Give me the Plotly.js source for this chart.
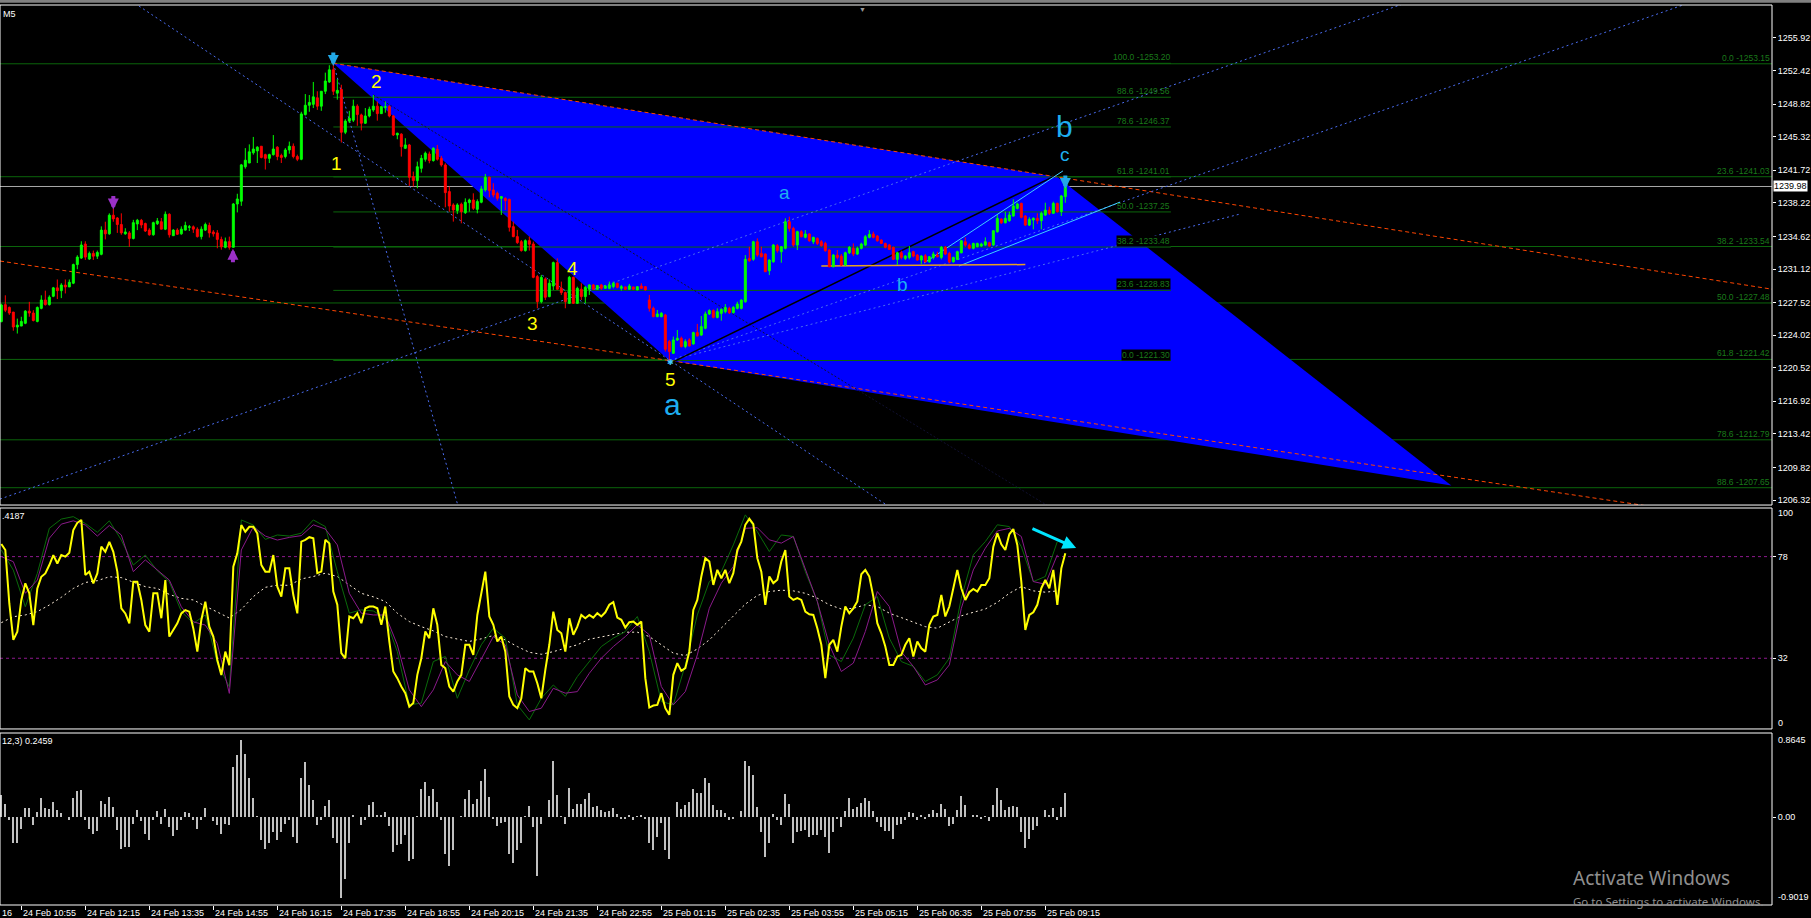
<!DOCTYPE html>
<html><head><meta charset="utf-8">
<script src="https://cdn.plot.ly/plotly-3.0.1.min.js"></script>
<style>html,body{margin:0;padding:0;background:#000;}#chart{width:1811px;height:918px;}</style>
</head><body><div id="chart"></div>
<script>
// ---------- price bars (M5) ----------
const openP = [
1225.48,1227.3,1227.0,1226.5,1224.9,1225.0,1225.3,1226.6,1226.4,1225.5,
1226.9,1227.8,1227.3,1228.2,1229.1,1228.8,1229.4,1229.2,1229.6,1231.6,
1232.3,1233.8,1232.2,1232.8,1232.5,1232.7,1235.3,1234.9,1236.9,1236.6,
1235.9,1234.9,1235.0,1234.4,1235.96,1236.35,1236.0,1235.3,1234.8,1235.99,
1236.2,1235.4,1237.0,1234.7,1235.3,1234.9,1235.3,1235.6,1235.65,1235.4,
1234.6,1235.3,1235.8,1235.1,1235.0,1234.3,1233.45,1234.06,1233.45,1238.1,
1238.4,1242.1,1242.5,1243.6,1243.8,1244.3,1243.4,1243.0,1243.4,1244.2,
1243.3,1243.2,1243.9,1244.3,1243.2,1242.9,1247.7,1248.7,1248.8,1249.5,
1248.6,1250.2,1251.2,1252.5,1250.0,1250.4,1245.8,1247.0,1247.1,1248.6,
1247.66,1246.77,1247.55,1248.2,1248.6,1247.8,1248.45,1248.55,1247.55,1245.51,
1245.6,1244.08,1244.44,1241.04,1240.61,1241.93,1242.9,1243.47,1242.76,1243.97,
1243.0,1242.29,1239.43,1238.0,1237.39,1238.07,1237.17,1238.25,1238.53,1237.53,
1238.29,1239.61,1240.97,1239.61,1239.25,1238.71,1238.71,1238.6,1235.67,1234.6,
1234.06,1233.1,1234.17,1233.81,1230.31,1227.62,1230.05,1228.16,1229.3,1231.81,
1229.06,1228.59,1227.44,1230.23,1227.44,1228.95,1228.16,1228.95,1229.41,1228.95,
1229.41,1229.05,1229.05,1229.23,1229.59,1229.05,1229.2,1228.95,1229.2,1228.88,
1229.3,1229.23,1227.8,1226.91,1226.01,1226.01,1226.19,1223.33,1222.08,1223.51,
1223.69,1222.8,1223.51,1223.08,1224.3,1224.04,1224.76,1226.3,1226.66,1225.93,
1226.36,1226.54,1226.9,1226.43,1226.9,1226.9,1227.61,1232.26,1232.16,1234.05,
1232.8,1232.73,1230.94,1231.9,1233.63,1232.98,1233.34,1236.2,1235.48,1233.7,
1235.13,1234.52,1234.88,1234.05,1234.41,1234.05,1233.87,1233.16,1231.37,1232.62,
1232.51,1231.55,1232.87,1233.34,1232.73,1233.34,1233.7,1234.52,1234.88,1234.66,
1234.23,1233.87,1233.7,1233.45,1232.16,1232.87,1232.26,1232.37,1232.98,1232.62,
1232.08,1232.55,1231.9,1232.37,1232.62,1232.37,1233.45,1232.8,1231.9,1232.16,
1232.87,1234.05,1233.7,1233.34,1233.52,1233.59,1233.7,1233.95,1233.7,1235.13,
1236.49,1236.09,1236.31,1236.81,1237.63,1238.17,1236.81,1235.84,1236.38,1236.56,
1236.31,1236.92,1237.45,1237.1,1238.17,1237.28,1238.89];
const highP = [
1227.4,1228.3,1227.1,1226.5,1225.8,1226.0,1226.7,1227.6,1226.7,1227.1,
1228.3,1228.8,1228.3,1229.2,1230.0,1229.6,1230.0,1230.0,1231.7,1232.6,
1234.1,1234.1,1233.0,1233.1,1233.1,1235.7,1236.2,1237.1,1237.6,1236.7,
1237.1,1235.5,1235.2,1236.4,1236.5,1236.5,1236.1,1235.5,1236.2,1236.6,
1236.6,1237.3,1237.1,1235.4,1235.5,1235.7,1236.2,1235.85,1235.8,1235.6,
1235.7,1236.1,1236.1,1235.3,1235.3,1234.6,1234.5,1234.6,1238.2,1239.2,
1242.4,1244.1,1244.5,1245.3,1244.3,1244.3,1243.5,1243.5,1245.5,1244.3,
1243.5,1244.1,1244.8,1244.6,1243.4,1248.0,1249.9,1249.8,1251.2,1250.2,
1250.2,1252.2,1253.0,1253.2,1251.5,1250.9,1247.2,1248.1,1249.3,1248.8,
1247.8,1248.4,1248.55,1249.8,1249.1,1248.6,1249.1,1248.7,1247.66,1245.76,
1245.69,1245.16,1244.55,1241.58,1242.65,1243.37,1243.73,1243.73,1244.19,1244.44,
1243.26,1242.47,1239.97,1238.18,1238.18,1238.25,1238.71,1238.68,1239.25,1238.6,
1240.04,1241.33,1241.04,1240.33,1239.43,1238.96,1238.82,1238.67,1236.21,1235.32,
1234.24,1234.31,1234.6,1234.06,1230.49,1230.49,1230.23,1230.02,1231.92,1232.27,
1229.77,1228.7,1230.38,1230.31,1229.23,1229.59,1229.3,1229.48,1229.52,1229.41,
1229.52,1229.41,1229.77,1229.77,1229.66,1229.41,1229.23,1229.52,1229.23,1229.25,
1229.59,1229.3,1228.34,1227.09,1226.73,1226.5,1226.3,1223.51,1223.87,1224.58,
1223.87,1223.58,1223.69,1224.4,1225.23,1226.08,1226.55,1226.8,1226.8,1226.9,
1226.9,1227.36,1227.08,1227.15,1227.61,1227.86,1232.62,1233.52,1234.16,1234.41,
1233.52,1232.8,1232.16,1233.8,1233.8,1233.59,1236.56,1236.74,1235.66,1235.23,
1235.3,1235.3,1234.95,1234.59,1234.52,1234.23,1234.05,1233.23,1232.73,1233.16,
1232.73,1232.98,1233.59,1233.87,1233.52,1233.95,1234.77,1235.3,1235.13,1234.77,
1234.3,1233.95,1233.8,1233.52,1232.98,1233.09,1232.62,1233.59,1233.09,1232.73,
1232.62,1232.73,1232.51,1232.98,1232.98,1233.59,1233.59,1232.98,1232.44,1233.09,
1234.23,1234.52,1233.87,1233.95,1233.95,1233.95,1234.52,1234.05,1235.3,1236.92,
1236.56,1237.28,1237.28,1238.6,1238.24,1238.24,1236.92,1236.67,1236.67,1237.1,
1237.28,1238.24,1237.81,1238.35,1238.24,1239.07,1240.04];
const lowP = [
1225.4,1226.5,1226.2,1224.5,1224.2,1225.0,1225.2,1226.0,1225.5,1225.4,
1226.8,1227.2,1227.2,1228.1,1227.9,1228.0,1228.5,1229.2,1229.5,1231.1,
1232.2,1232.1,1232.1,1232.1,1232.2,1232.6,1234.3,1234.8,1236.2,1235.0,
1234.8,1234.8,1233.5,1234.3,1235.3,1235.5,1235.1,1234.7,1234.7,1235.85,
1235.4,1235.3,1234.5,1234.7,1234.8,1234.8,1235.25,1235.2,1235.0,1234.5,
1234.3,1235.2,1234.5,1234.6,1233.35,1233.2,1233.35,1233.2,1233.45,1237.2,
1237.9,1241.9,1242.5,1243.4,1242.5,1243.0,1241.8,1242.5,1243.3,1242.8,
1242.5,1243.0,1243.5,1243.0,1242.7,1242.8,1247.6,1248.0,1248.4,1248.2,
1248.1,1249.9,1251.1,1249.8,1249.3,1244.7,1245.6,1246.8,1246.9,1246.5,
1246.0,1246.7,1247.4,1248.0,1247.05,1247.8,1247.9,1247.4,1245.4,1245.05,
1243.19,1244.0,1240.04,1239.97,1239.79,1241.47,1242.65,1242.47,1242.65,1242.76,
1242.11,1237.75,1237.28,1236.21,1237.03,1236.03,1237.03,1237.28,1237.46,1237.1,
1238.18,1239.43,1238.82,1238.82,1238.46,1236.93,1237.46,1235.14,1234.53,1233.82,
1232.99,1232.99,1233.1,1230.13,1226.91,1227.44,1227.8,1228.09,1228.88,1228.88,
1228.34,1226.91,1227.37,1227.37,1227.37,1227.8,1227.44,1228.34,1228.88,1228.88,
1228.88,1229.0,1228.95,1229.05,1229.05,1228.81,1228.88,1228.88,1228.88,1228.85,
1229.0,1228.81,1226.55,1225.94,1225.94,1225.94,1222.26,1221.3,1222.0,1223.4,
1222.7,1222.62,1222.8,1223.0,1223.87,1223.94,1224.65,1226.19,1225.83,1225.83,
1225.58,1226.36,1226.29,1226.36,1226.79,1226.79,1227.5,1231.9,1232.01,1232.44,
1232.37,1230.83,1230.47,1231.8,1232.87,1231.8,1233.23,1235.13,1233.52,1233.16,
1234.52,1234.41,1234.05,1233.8,1233.7,1233.52,1232.98,1231.3,1231.3,1232.16,
1231.44,1231.44,1232.73,1232.51,1232.62,1233.23,1233.59,1234.41,1234.41,1234.05,
1233.8,1233.34,1233.16,1232.08,1231.55,1232.16,1232.08,1232.16,1232.37,1232.01,
1231.66,1231.8,1231.8,1232.16,1232.37,1232.16,1232.62,1231.73,1231.8,1232.08,
1232.8,1233.52,1233.23,1233.23,1233.45,1233.5,1233.59,1233.52,1233.59,1235.02,
1235.95,1236.02,1236.2,1236.74,1237.52,1236.56,1235.74,1235.74,1235.38,1235.95,
1235.38,1236.81,1236.92,1237.03,1237.17,1236.81,1238.24];
const closeP = [
1227.27,1226.7,1226.4,1224.9,1225.1,1225.5,1226.6,1226.4,1225.6,1227.0,
1227.8,1227.3,1228.1,1229.1,1228.8,1229.4,1229.2,1229.7,1231.6,1232.4,
1233.7,1232.4,1232.8,1232.5,1232.9,1235.3,1234.9,1236.9,1236.5,1235.9,
1235.0,1235.1,1234.4,1236.1,1236.35,1235.85,1235.2,1234.8,1236.1,1236.28,
1235.4,1237.0,1234.8,1235.3,1234.85,1235.4,1235.8,1235.65,1235.4,1234.6,
1235.4,1235.9,1235.0,1234.9,1234.3,1233.5,1234.06,1233.45,1238.1,1238.64,
1242.3,1242.8,1243.7,1244.0,1244.2,1243.1,1243.0,1243.4,1244.0,1243.2,
1243.1,1243.9,1244.3,1243.2,1242.9,1247.77,1248.7,1249.0,1249.6,1248.6,
1250.2,1251.3,1252.5,1250.2,1250.3,1245.8,1247.0,1247.3,1248.6,1247.7,
1246.77,1247.55,1248.27,1248.6,1247.8,1248.55,1248.55,1247.55,1245.51,1245.69,
1244.26,1244.44,1240.97,1240.61,1242.1,1243.0,1243.55,1242.76,1244.08,1242.9,
1242.29,1239.32,1237.89,1237.46,1238.0,1237.28,1238.29,1238.53,1237.64,1238.36,
1239.72,1240.97,1239.54,1239.07,1238.71,1238.89,1238.46,1235.6,1234.6,1233.96,
1233.1,1234.17,1233.78,1230.23,1227.62,1230.23,1228.09,1229.59,1231.81,1228.95,
1228.59,1227.62,1230.23,1227.44,1229.05,1228.16,1229.16,1229.41,1228.95,1229.34,
1229.05,1229.3,1229.41,1229.59,1229.16,1229.23,1228.95,1229.3,1228.95,1229.23,
1229.05,1228.88,1226.91,1226.01,1226.3,1226.37,1222.51,1222.26,1223.51,1223.69,
1222.8,1223.33,1222.87,1224.3,1223.94,1224.94,1226.3,1226.66,1225.94,1226.54,
1226.79,1227.0,1226.43,1227.0,1227.36,1227.79,1232.16,1232.01,1234.05,1232.62,
1232.44,1230.83,1232.08,1233.7,1233.09,1233.52,1236.2,1235.48,1233.7,1235.13,
1234.59,1234.88,1234.16,1234.52,1233.87,1233.63,1233.09,1231.37,1232.62,1232.37,
1231.55,1232.87,1233.45,1232.73,1233.34,1233.8,1234.59,1234.84,1234.52,1234.16,
1233.87,1233.45,1233.23,1232.16,1232.87,1232.37,1232.51,1232.87,1232.51,1232.08,
1232.51,1231.9,1232.44,1232.73,1232.44,1233.45,1232.73,1231.9,1232.37,1232.98,
1234.16,1233.7,1233.34,1233.87,1233.87,1233.8,1234.05,1233.59,1235.23,1236.56,
1236.09,1236.56,1236.92,1237.88,1238.1,1236.67,1235.84,1236.45,1236.56,1236.31,
1237.1,1237.45,1237.1,1238.17,1237.28,1238.96,1239.98];
const lastPrice = 1239.98;

// ---------- stochastic window ----------
const stochMain = [
83.7,81.0,56.8,40.3,44.0,58.4,65.9,61.4,47.0,63.6,
68.9,70.4,74.2,78.7,74.9,78.7,78.0,79.8,90.0,93.3,
94.6,69.7,71.2,65.9,70.4,82.5,80.2,84.7,80.2,71.2,
54.6,52.3,47.8,66.6,66.6,58.4,47.0,44.0,61.4,61.4,
50.1,67.4,41.8,44.8,47.8,52.3,53.8,53.1,45.5,35.0,
49.3,57.6,46.3,41.8,31.2,24.4,35.0,28.9,73.4,79.5,
92.3,89.3,91.5,91.5,88.5,74.2,71.2,71.2,78.7,64.4,
59.9,72.7,72.7,60.6,52.3,84.8,85.6,86.8,86.3,70.5,
71.2,85.6,84.0,62.2,56.2,34.3,32.0,50.9,50.1,52.4,
47.9,54.6,55.4,55.4,54.6,47.1,55.4,39.6,26.0,23.0,
19.2,16.2,10.1,11.7,24.5,32.0,44.1,41.1,54.6,47.1,
29.0,27.5,19.2,16.9,21.5,24.5,38.1,38.1,33.5,51.6,
62.2,71.2,50.9,47.1,39.6,41.8,35.0,14.7,10.9,9.4,
13.9,27.5,26.0,26.0,20.7,13.9,26.7,38.1,53.1,44.8,
43.3,35.0,50.1,42.6,46.3,51.6,50.1,51.6,50.4,52.4,
50.9,52.8,56.2,57.4,50.4,49.4,45.9,48.3,48.6,47.1,
48.6,23.0,9.7,10.6,10.9,16.2,9.4,6.4,24.5,29.8,
26.3,27.5,35.0,53.9,58.4,69.0,77.3,75.8,65.2,72.0,
68.2,72.0,66.0,70.5,81.0,84.8,92.4,95.1,92.7,77.3,
71.2,56.2,69.0,66.0,67.5,75.8,81.0,59.9,58.4,59.2,
58.4,53.1,51.9,51.6,45.6,38.1,23.0,38.1,40.3,35.0,
46.3,55.4,52.4,54.6,57.7,70.0,72.0,69.0,59.9,47.9,
43.3,37.3,29.0,29.0,32.8,33.5,38.1,41.1,32.8,39.6,
36.5,35.0,47.1,50.9,51.6,60.7,50.9,55.4,63.7,72.0,
63.7,58.4,61.9,63.4,62.2,65.2,65.2,68.2,82.5,88.6,
83.6,81.0,88.1,90.5,83.3,66.7,44.8,51.6,52.8,56.2,
63.7,67.5,63.7,72.0,56.2,72.7,79.5];
// signal lines, read every 3rd bar
const SAMPLE_STEP = 3;
const stochSignalGreen = [
81.0,71.9,55.3,70.4,90.8,95.0,96.1,93.0,89.0,94.2,
85.5,74.2,78.7,71.6,66.6,53.1,47.8,51.6,29.7,19.1,
94.6,92.3,85.8,87.8,87.3,88.6,94.6,91.6,71.2,52.4,
53.9,53.4,50.1,35.0,10.9,11.7,30.5,32.8,13.9,26.7,
38.1,45.6,41.1,10.9,4.1,13.9,19.9,14.7,23.7,30.5,
37.3,41.1,44.1,50.9,35.0,12.4,10.9,29.0,51.6,66.7,
71.2,83.3,96.9,89.3,80.3,87.8,87.1,71.2,57.7,33.5,
30.5,41.1,56.2,59.9,41.1,30.5,28.3,21.5,24.5,32.0,
59.2,78.8,84.8,92.4,91.6,82.5,66.7,69.0,84.8];
const stochSignalPurple = [
78.0,75.7,61.4,67.4,86.3,92.7,94.2,92.3,87.3,92.1,
87.8,71.2,76.5,71.9,67.4,55.3,48.5,47.0,38.7,16.1,
81.0,91.5,87.3,85.5,86.7,87.5,92.4,90.5,83.3,61.4,
52.4,51.6,51.6,38.1,17.7,10.1,17.7,30.5,24.5,21.5,
31.3,41.8,38.1,15.4,7.9,9.4,18.4,16.2,16.9,25.2,
32.0,37.3,41.8,47.1,42.6,19.2,10.9,16.9,33.5,54.6,
66.0,73.5,90.8,91.1,85.6,84.1,87.1,72.7,57.7,38.1,
26.0,29.8,44.1,62.2,55.4,35.0,28.3,19.9,22.2,29.0,
54.6,72.0,81.8,89.6,90.8,87.1,66.7,65.5,78.8];
const stochSlow = [
48.1,50.8,51.6,53.1,56.1,59.6,63.6,66.3,67.1,68.9,
68.5,66.6,64.4,63.6,60.9,59.1,58.4,55.6,52.9,50.2,
54.1,59.9,64.1,65.1,65.0,67.9,69.0,70.5,69.0,65.2,
61.4,59.8,57.7,52.4,48.6,46.3,44.4,41.8,40.8,39.6,
40.8,42.3,40.3,37.3,34.7,33.8,35.0,36.5,38.1,40.6,
41.7,42.9,43.8,43.8,41.8,38.1,34.3,33.2,36.2,40.3,
45.6,50.9,56.5,60.4,62.2,62.8,62.5,61.4,59.2,56.2,
54.3,54.6,56.2,55.4,52.4,50.4,48.3,46.3,45.6,48.3,
51.2,52.8,54.3,57.3,61.4,64.4,62.5,61.9,62.5];
const stochLevels = [78, 32];

// ---------- histogram window ----------
const histValues = [
0.23,0.14,-0.03,-0.27,-0.26,-0.125,0.09,0.09,-0.08,0.055,
0.195,0.09,0.083,0.16,0.073,0.045,0,-0.024,0.195,0.27,
0.28,-0.024,-0.125,-0.177,-0.14,0.167,0.135,0.21,0.10,-0.135,
-0.33,-0.31,-0.31,-0.066,0.073,-0.038,-0.177,-0.23,-0.024,0.063,
-0.066,0.08,-0.10,-0.19,-0.135,-0.03,0.049,0.038,-0.024,-0.12,
-0.024,0.09,0,-0.038,-0.076,-0.177,-0.066,-0.076,0.52,0.64,
0.79,0.65,0.40,0.195,0.01,-0.23,-0.33,-0.27,-0.15,-0.23,
-0.15,-0.066,-0.03,-0.20,-0.26,0.40,0.57,0.33,0.177,-0.076,
-0.024,0.115,0.177,-0.215,-0.27,-0.83,-0.63,-0.27,0.02,0,
-0.08,-0.024,0.125,0.16,0.02,0.02,0.055,-0.09,-0.36,-0.29,
-0.28,-0.18,-0.45,-0.43,0.01,0.29,0.36,0.22,0.29,0.16,
-0.024,-0.38,-0.50,-0.34,0,0.01,0.19,0.28,0.135,0.19,
0.37,0.49,0.21,-0.02,-0.09,-0.055,-0.05,-0.38,-0.47,-0.34,
-0.27,0.01,0.115,-0.10,-0.60,-0.073,0,0.177,0.58,0.23,
0.01,-0.066,0.30,0.083,0.135,0.135,0.19,0.25,0.10,0.12,
0.073,0.055,0.063,0.09,0.03,-0.014,-0.014,0.02,-0.024,0.01,
0.02,-0.014,-0.27,-0.34,-0.20,-0.055,-0.34,-0.43,0,0.16,
0.083,0.125,0.16,0.29,0.25,0.25,0.40,0.35,0.125,0.073,
0.073,0.038,-0.024,-0.014,0,0.063,0.58,0.53,0.43,0.10,
-0.15,-0.41,-0.27,0.03,-0.024,-0.076,0.24,0.135,-0.27,-0.15,
-0.146,-0.135,-0.20,-0.18,-0.18,-0.135,-0.20,-0.37,-0.15,-0.014,
-0.10,0.063,0.195,0.083,0.10,0.15,0.195,0.167,0.063,-0.05,
-0.10,-0.14,-0.14,-0.22,-0.08,-0.066,-0.03,0.049,0.038,-0.024,
0.02,-0.014,0.03,0.073,0.038,0.135,0.08,-0.09,-0.066,0.073,
0.22,0.125,0,0.02,0.02,-0.014,0.01,-0.038,0.125,0.30,
0.177,0.073,0.108,0.115,0.10,-0.15,-0.32,-0.22,-0.135,-0.094,
0,0.073,0.02,0.09,-0.024,0.10,0.25];
const histMax = 0.8645, histMin = -0.9019;

// ---------- axes ----------
const timeTickBars = [5,21,37,53,69,85,101,117,133,149,165,181,197,213,229,245,261];
const timeTickLabels = ['24 Feb 10:55','24 Feb 12:15','24 Feb 13:35','24 Feb 14:55','24 Feb 16:15',
 '24 Feb 17:35','24 Feb 18:55','24 Feb 20:15','24 Feb 21:35','24 Feb 22:55','25 Feb 01:15',
 '25 Feb 02:35','25 Feb 03:55','25 Feb 05:15','25 Feb 06:35','25 Feb 07:55','25 Feb 09:15'];
const priceTicks = [1255.92,1252.42,1248.82,1245.32,1241.72,1238.22,1234.62,1231.12,1227.52,1224.02,1220.52,1216.92,1213.42,1209.82,1206.32];
const priceRange = [1205.79, 1259.46];
const barRange = [-0.33, 442.67];

// ---------- Fibonacci objects ----------
const fibALevels = ['100.0','88.6','78.6','61.8','50.0','38.2','23.6','0.0'];
const fibAPrices = [1253.20,1249.56,1246.37,1241.01,1237.25,1233.48,1228.83,1221.30];
const fibAStartBar = 83, fibAEndBar = 292.4;
const fibBLevels = ['0.0','23.6','38.2','50.0','61.8','78.6','88.6'];
const fibBPrices = [1253.15,1241.03,1233.54,1227.48,1221.42,1212.79,1207.65];

// ---------- drawn objects (bar index, price) ----------
const zonePolygon = [[83,1253.2],[264,1241.0],[362.5,1207.9],[167,1221.3]];
const orangeUpper = [83,1253.2,264,1241.0];
const orangeLower = [-0.33,1231.98,167,1221.3];
const dotDesc1 = [34.4,1259.35,167.2,1221.3];
const dotSteep = [83,1253.2,103.9,1221.35];
const dotDescBlack = [93,1249.8,178.4,1227.47];
const dotRise1 = [-0.33,1206.43,348.9,1259.35];
const dotRise2 = [167.2,1221.3,419.7,1259.35];
const dotRise3 = [167.2,1221.3,310,1237.06];
const blackSolid = [167.2,1221.0,265.2,1241.5];
const cyanUpper = [230.7,1231.77,265.4,1241.65];
const cyanLower = [239.4,1231.44,279.7,1238.31];
const orangeFlat = [205,1231.45,256,1231.6];

const waveDigits = [['1',83.9,1242.4],['2',93.9,1251.3],['3',132.9,1225.3],['4',142.9,1231.2],['5',167.4,1219.3]];
const waveBig = [['a',167.7,1216.6],['b',265.9,1246.4]];
const waveSmall = [['a',195.9,1239.3],['b',225.2,1229.5],['c',265.9,1243.4]];
const arrowsDown = [[28,1237.5,'#9b30c8'],[83,1252.9,'#22a8e6'],[266,1239.7,'#22a8e6']];
const arrowsUp = [[57.9,1233.3,'#9b30c8']];
const stochArrow = [257.4,91.0,268.7,81.9];

// ---------- build ----------
const FONT = 'Liberation Sans, Arial, sans-serif';
const bars = openP.map((_, i) => i);
const sampleBars = stochSignalGreen.map((_, k) => k * SAMPLE_STEP);

function seg(s, style, ray){
  let x1 = s[2], y1 = s[3];
  if (ray) { const k = (s[3]-s[1])/(s[2]-s[0]); x1 = barRange[1]; y1 = s[1] + k*(x1 - s[0]); }
  return Object.assign({type:'line', xref:'x', yref:'y', x0:s[0], y0:s[1], x1:x1, y1:y1, layer:'below'}, style);
}
const DOT = {line:{color:'#4a6cf0', width:1, dash:'2px,3px'}};
const shapes = [];
shapes.push({type:'path', xref:'x', yref:'y', layer:'below', fillcolor:'#0000ff', line:{width:0},
  path: 'M' + zonePolygon.map(p => p[0] + ',' + p[1]).join(' L') + ' Z'});
fibAPrices.forEach(p => shapes.push({type:'line', xref:'x', yref:'y', x0:fibAStartBar, x1:fibAEndBar, y0:p, y1:p, layer:'below', line:{color:'#0b650b', width:1}}));
fibBPrices.forEach(p => shapes.push({type:'line', xref:'paper', yref:'y', x0:0, x1:1, y0:p, y1:p, layer:'below', line:{color:'#0b650b', width:1}}));
shapes.push({type:'line', xref:'paper', yref:'y', x0:0, x1:1, y0:lastPrice, y1:lastPrice, layer:'below', line:{color:'#a8a8a8', width:1}});
shapes.push(seg(orangeUpper, {line:{color:'#ff4500', width:1, dash:'4px,3px'}}, true));
shapes.push(seg(orangeLower, {line:{color:'#ff4500', width:1, dash:'4px,3px'}}, true));
shapes.push(seg(dotDesc1, DOT, true));
shapes.push(seg(dotSteep, DOT, true));
shapes.push(seg(dotDescBlack, {line:{color:'#101030', width:1, dash:'2px,2px'}}, true));
shapes.push(seg(dotRise1, DOT, true));
shapes.push(seg(dotRise2, DOT, true));
shapes.push(seg(dotRise3, DOT, false));
shapes.push(seg(blackSolid, {line:{color:'#000000', width:1.5}}, false));
shapes.push(seg(cyanUpper, {line:{color:'#3fd0ff', width:1}}, false));
shapes.push(seg(cyanLower, {line:{color:'#3fd0ff', width:1}}, false));
shapes.push(seg(orangeFlat, {line:{color:'#e8a020', width:1.5}}, false));
stochLevels.forEach(v => shapes.push({type:'line', xref:'paper', yref:'y2', x0:0, x1:1, y0:v, y1:v, layer:'below', line:{color:'#8e1a8e', width:1, dash:'3px,3px'}}));
['y','y2','y3'].forEach(a => shapes.push({type:'rect', xref:'paper', yref:a+' domain', x0:0, x1:1, y0:0, y1:1, layer:'above', line:{color:'#ffffff', width:1}}));
shapes.push({type:'rect', xref:'paper', yref:'paper', x0:0, x1:1.03, y0:1.0025, y1:1.006, fillcolor:'#808080', line:{width:0}, layer:'above'});

const ann = [];
fibAPrices.forEach((p, k) => {
  const bg = (k >= 5) ? '#000' : 'rgba(0,0,0,0)';
  ann.push({xref:'x', yref:'y', x:fibAEndBar, y:p, xanchor:'right', yanchor:'bottom', showarrow:false, borderpad:0,
    text: fibALevels[k] + ' -' + p.toFixed(2), bgcolor:bg, font:{family:FONT, size:8.5, color:'#1a7a1a'}});
});
fibBPrices.forEach((p, k) => {
  ann.push({xref:'paper', yref:'y', x:1, xshift:-1, y:p, xanchor:'right', yanchor:'bottom', showarrow:false, borderpad:0,
    text: fibBLevels[k] + ' -' + p.toFixed(2), font:{family:FONT, size:8.5, color:'#1a7a1a'}});
});
ann.push({xref:'paper', yref:'y', x:1, xshift:1, y:lastPrice, xanchor:'left', yanchor:'middle', showarrow:false,
  text:lastPrice.toFixed(2), bgcolor:'#ffffff', borderpad:0, font:{family:FONT, size:9, color:'#000'}});
waveDigits.forEach(w => ann.push({xref:'x', yref:'y', x:w[1], y:w[2], text:w[0], showarrow:false, font:{family:FONT, size:19, color:'#ffff00'}}));
waveBig.forEach(w => ann.push({xref:'x', yref:'y', x:w[1], y:w[2], text:w[0], showarrow:false, font:{family:FONT, size:30, color:'#1eaef0'}}));
waveSmall.forEach(w => ann.push({xref:'x', yref:'y', x:w[1], y:w[2], text:w[0], showarrow:false, font:{family:FONT, size:19, color:'#1eaef0'}}));
arrowsDown.forEach(a => ann.push({xref:'x', yref:'y', x:a[0], y:a[1], ax:0, ay:-15, showarrow:true, arrowhead:2, arrowsize:0.55, arrowwidth:4, arrowcolor:a[2], text:''}));
arrowsUp.forEach(a => ann.push({xref:'x', yref:'y', x:a[0], y:a[1], ax:0, ay:15, showarrow:true, arrowhead:2, arrowsize:0.55, arrowwidth:4, arrowcolor:a[2], text:''}));
ann.push({xref:'x', yref:'y', x:167.2, y:1221.2, text:'✱', showarrow:false, font:{size:8, color:'#3fc8ff'}});
ann.push({xref:'x', yref:'y2', x:stochArrow[2], y:stochArrow[3], axref:'x', ayref:'y2', ax:stochArrow[0], ay:stochArrow[1],
  showarrow:true, arrowhead:2, arrowsize:0.9, arrowwidth:3, arrowcolor:'#00e5ff', text:''});
timeTickBars.forEach((b, k) => ann.push({xref:'x', yref:'paper', x:b, y:0, xanchor:'left', yanchor:'top', xshift:0, yshift:-1, showarrow:false,
  text:timeTickLabels[k], font:{family:FONT, size:9, color:'#fff'}}));
ann.push({xref:'paper', yref:'paper', x:0, y:0, xanchor:'left', yanchor:'top', yshift:-1, showarrow:false, text:'16', font:{family:FONT, size:9, color:'#fff'}});
ann.push({xref:'paper', yref:'paper', x:0, y:1, xanchor:'left', yanchor:'top', xshift:1, yshift:-2, showarrow:false, text:'M5', font:{family:FONT, size:9, color:'#fff'}});
ann.push({xref:'paper', yref:'y2 domain', x:0, y:1, xanchor:'left', yanchor:'top', xshift:0, yshift:-1, showarrow:false, text:'.4187', font:{family:FONT, size:9, color:'#fff'}});
ann.push({xref:'paper', yref:'y3 domain', x:0, y:1, xanchor:'left', yanchor:'top', xshift:0, yshift:-1, showarrow:false, text:'12,3) 0.2459', font:{family:FONT, size:9, color:'#fff'}});
ann.push({xref:'paper', yref:'y2', x:1, xshift:4, y:100, yshift:-5, xanchor:'left', showarrow:false, text:'100', font:{family:FONT, size:9, color:'#fff'}});
ann.push({xref:'paper', yref:'y2', x:1, xshift:4, y:0, yshift:6, xanchor:'left', showarrow:false, text:'0', font:{family:FONT, size:9, color:'#fff'}});
ann.push({xref:'paper', yref:'y3', x:1, xshift:4, y:histMax, yshift:-7, xanchor:'left', showarrow:false, text:histMax.toFixed(4), font:{family:FONT, size:9, color:'#fff'}});
ann.push({xref:'paper', yref:'y3', x:1, xshift:4, y:histMin, yshift:8, xanchor:'left', showarrow:false, text:histMin.toFixed(4), font:{family:FONT, size:9, color:'#fff'}});
ann.push({xref:'paper', yref:'paper', x:0.4865, y:1, yshift:2, showarrow:false, text:'▼', font:{size:7, color:'#9a9a9a'}});
ann.push({xref:'paper', yref:'paper', x:0.8866, y:0.03, xanchor:'left', yanchor:'middle', showarrow:false, text:'Activate Windows', font:{family:'Noto Sans, sans-serif', size:19, color:'#8f8f8f'}});
ann.push({xref:'paper', yref:'paper', x:0.8866, y:0.004, xanchor:'left', yanchor:'middle', showarrow:false, text:'Go to Settings to activate Windows.', font:{family:'Noto Sans, sans-serif', size:11.5, color:'#8f8f8f'}});

const data = [
  {type:'candlestick', x:bars, open:openP, high:highP, low:lowP, close:closeP, xaxis:'x', yaxis:'y', whiskerwidth:0,
   increasing:{line:{color:'#00ff00', width:1}, fillcolor:'#00ff00'},
   decreasing:{line:{color:'#ff0000', width:1}, fillcolor:'#ff0000'}, hoverinfo:'skip'},
  {type:'scatter', mode:'lines', x:sampleBars, y:stochSlow, xaxis:'x', yaxis:'y2', line:{color:'#fff0dc', width:1, dash:'2px,3px'}, hoverinfo:'skip'},
  {type:'scatter', mode:'lines', x:sampleBars, y:stochSignalGreen, xaxis:'x', yaxis:'y2', line:{color:'#0a6a0a', width:1}, hoverinfo:'skip'},
  {type:'scatter', mode:'lines', x:sampleBars, y:stochSignalPurple, xaxis:'x', yaxis:'y2', line:{color:'#8a1a8a', width:1}, hoverinfo:'skip'},
  {type:'scatter', mode:'lines', x:bars, y:stochMain, xaxis:'x', yaxis:'y2', line:{color:'#ffff00', width:2}, hoverinfo:'skip'},
  {type:'bar', x:bars, y:histValues, xaxis:'x', yaxis:'y3', width:0.5, marker:{color:'#c0c0c0', line:{width:0}}, hoverinfo:'skip'}
];

const axisFont = {family:FONT, size:9, color:'#ffffff'};
const layout = {
  width:1811, height:918, paper_bgcolor:'#000', plot_bgcolor:'#000',
  margin:{l:0, r:39, t:5, b:13}, showlegend:false, bargap:0,
  xaxis:{range:barRange, anchor:'y3', showgrid:false, zeroline:false, showline:false, tickmode:'array', tickvals:timeTickBars,
    ticks:'outside', ticklen:4, tickcolor:'#fff', showticklabels:false, rangeslider:{visible:false}, fixedrange:true},
  yaxis:{domain:[0.4444,1], range:priceRange, side:'right', anchor:'x', showgrid:false, zeroline:false, showline:false,
    tickmode:'array', tickvals:priceTicks, ticktext:priceTicks.map(v => v.toFixed(2)), ticks:'outside', ticklen:3, tickcolor:'#fff', tickfont:axisFont},
  yaxis2:{domain:[0.1956,0.4411], range:[0,100], side:'right', anchor:'x', showgrid:false, zeroline:false, showline:false,
    tickmode:'array', tickvals:stochLevels, ticktext:stochLevels.map(String), ticks:'outside', ticklen:3, tickcolor:'#fff', tickfont:axisFont},
  yaxis3:{domain:[0,0.1911], range:[histMin,histMax], side:'right', anchor:'x', showgrid:false, zeroline:false, showline:false,
    tickmode:'array', tickvals:[0], ticktext:['0.00'], ticks:'outside', ticklen:3, tickcolor:'#fff', tickfont:axisFont},
  shapes:shapes, annotations:ann
};
Plotly.newPlot('chart', data, layout, {staticPlot:true, displayModeBar:false});
</script></body></html>
